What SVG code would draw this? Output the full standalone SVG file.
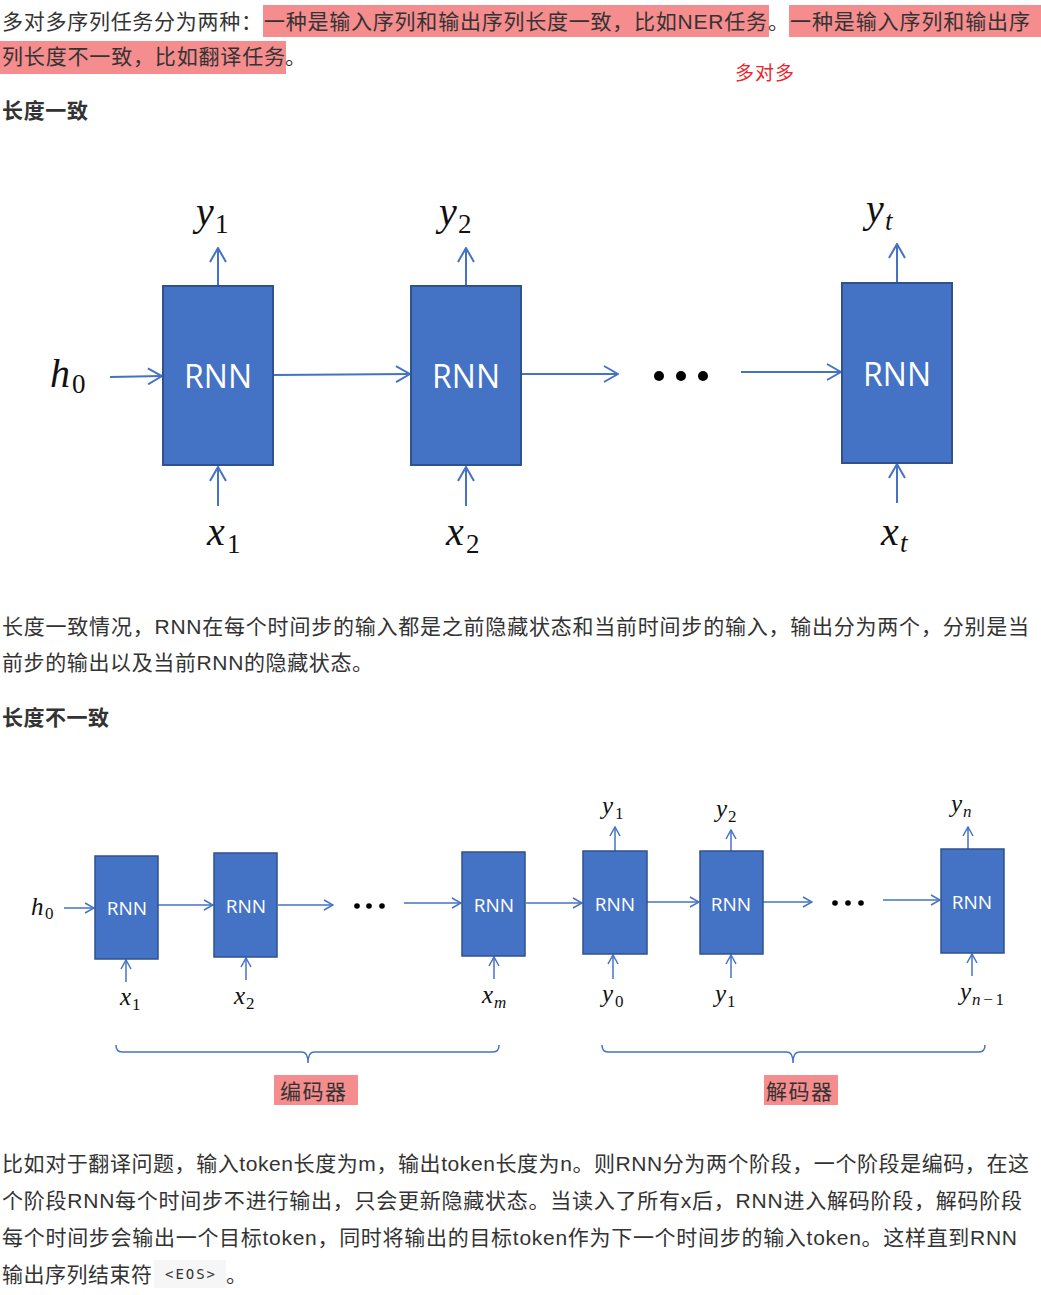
<svg xmlns="http://www.w3.org/2000/svg" width="1041" height="1295" viewBox="0 0 1041 1295">
<style>
.t{font-family:"Liberation Sans","Noto Sans CJK SC",sans-serif;font-size:21px;fill:#333}
.h{font-family:"Liberation Sans","Noto Sans CJK SC",sans-serif;font-size:21px;font-weight:bold;fill:#333}
.hl{fill:#F58C8D}
.box{fill:#4472C4;stroke:#2F528F;stroke-width:2}
.box2{fill:#4472C4;stroke:#2F528F;stroke-width:1.5}
.rnn{font-family:"Open Sans","Noto Sans",sans-serif;fill:#fff;text-anchor:middle}
.m{font-family:"Liberation Serif",serif;font-style:italic;fill:#111}
.s{font-family:"Liberation Serif",serif;fill:#111}
.big{stroke:#4472C4;stroke-width:2;fill:none;marker-end:url(#ab)}
.sm{stroke:#4472C4;stroke-width:1.5;fill:none;marker-end:url(#as)}
.brace{stroke:#4472C4;stroke-width:1.5;fill:none}
</style>
<defs>
<marker id="ab" markerUnits="userSpaceOnUse" viewBox="0 0 16 18" markerWidth="16" markerHeight="18" refX="15" refY="9" orient="auto"><path d="M1,1 L15,9 L1,17" fill="none" stroke="#4472C4" stroke-width="2"/></marker>
<marker id="as" markerUnits="userSpaceOnUse" viewBox="0 0 11 12" markerWidth="11" markerHeight="12" refX="10" refY="6" orient="auto"><path d="M1,1 L10,6 L1,11" fill="none" stroke="#4472C4" stroke-width="1.5"/></marker>
</defs>

<g id="intro">
<rect class="hl" x="263" y="5" width="506" height="32"/>
<rect class="hl" x="789" y="5" width="252" height="32"/>
<rect class="hl" x="0" y="41" width="286" height="33"/>
<text class="t" x="2" y="29" textLength="260">多对多序列任务分为两种：</text>
<text class="t" x="264" y="29" textLength="503">一种是输入序列和输出序列长度一致，比如NER任务</text>
<text class="t" x="768" y="29">。</text>
<text class="t" x="790" y="29" textLength="240">一种是输入序列和输出序</text>
<text class="t" x="2" y="64" textLength="283">列长度不一致，比如翻译任务</text>
<text class="t" x="285" y="64">。</text>
<text x="735" y="80" font-family="Liberation Sans,'Noto Sans CJK SC',sans-serif" font-size="19" fill="#E8262B" textLength="59">多对多</text>
<text class="h" x="2" y="118" textLength="86">长度一致</text>
</g>

<g id="top-connectors">
<line class="big" x1="110" y1="377" x2="162" y2="376"/>
<line class="big" x1="274" y1="375" x2="410" y2="374"/>
<line class="big" x1="522" y1="374" x2="618" y2="374"/>
<line class="big" x1="741" y1="372" x2="841" y2="372"/>
<line class="big" x1="218" y1="286" x2="218" y2="248"/>
<line class="big" x1="466" y1="286" x2="466" y2="248"/>
<line class="big" x1="897" y1="283" x2="897" y2="244"/>
<line class="big" x1="218" y1="506" x2="218" y2="467"/>
<line class="big" x1="466" y1="506" x2="466" y2="467"/>
<line class="big" x1="897" y1="503" x2="897" y2="464"/>
</g>

<g id="top-rnn1"><rect class="box" x="163" y="286" width="110" height="179"/><text class="rnn" x="218" y="388" font-size="32">RNN</text></g>
<g id="top-rnn2"><rect class="box" x="411" y="286" width="110" height="179"/><text class="rnn" x="466" y="388" font-size="32">RNN</text></g>
<g id="top-rnn3"><rect class="box" x="842" y="283" width="110" height="180"/><text class="rnn" x="897" y="386" font-size="32">RNN</text></g>
<g id="top-dots" fill="#000"><circle cx="659" cy="376" r="5"/><circle cx="681" cy="376" r="5"/><circle cx="703" cy="376" r="5"/></g>

<g id="top-labels">
<text class="m" x="50" y="387" font-size="40">h</text><text class="s" x="72" y="393" font-size="27">0</text>
<text class="m" x="196" y="225" font-size="40">y</text><text class="s" x="215" y="233" font-size="27">1</text>
<text class="m" x="439" y="225" font-size="40">y</text><text class="s" x="458" y="233" font-size="27">2</text>
<text class="m" x="866" y="222" font-size="40">y</text><text class="m" x="885" y="230" font-size="27">t</text>
<text class="m" x="207" y="545" font-size="40">x</text><text class="s" x="227" y="553" font-size="27">1</text>
<text class="m" x="446" y="545" font-size="40">x</text><text class="s" x="466" y="553" font-size="27">2</text>
<text class="m" x="881" y="545" font-size="40">x</text><text class="m" x="900" y="552" font-size="27">t</text>
</g>

<g id="para2">
<text class="t" x="2" y="634" textLength="1027">长度一致情况，RNN在每个时间步的输入都是之前隐藏状态和当前时间步的输入，输出分为两个，分别是当</text>
<text class="t" x="2" y="670" textLength="371">前步的输出以及当前RNN的隐藏状态。</text>
<text class="h" x="2" y="725" textLength="107">长度不一致</text>
</g>

<g id="bottom-connectors">
<line class="sm" x1="64" y1="908" x2="94" y2="908"/>
<line class="sm" x1="158" y1="905" x2="213" y2="905"/>
<line class="sm" x1="278" y1="905" x2="333" y2="905"/>
<line class="sm" x1="404" y1="903" x2="461" y2="903"/>
<line class="sm" x1="526" y1="903" x2="582" y2="903"/>
<line class="sm" x1="647" y1="902" x2="699" y2="902"/>
<line class="sm" x1="763" y1="902" x2="812" y2="902"/>
<line class="sm" x1="883" y1="900" x2="940" y2="900"/>
<line class="sm" x1="126" y1="982" x2="126" y2="960"/>
<line class="sm" x1="246" y1="980" x2="246" y2="958"/>
<line class="sm" x1="494" y1="979" x2="494" y2="957"/>
<line class="sm" x1="613" y1="979" x2="613" y2="955"/>
<line class="sm" x1="731" y1="978" x2="731" y2="955"/>
<line class="sm" x1="972" y1="976" x2="972" y2="954"/>
<line class="sm" x1="615" y1="851" x2="615" y2="827"/>
<line class="sm" x1="731" y1="851" x2="731" y2="830"/>
<line class="sm" x1="968" y1="849" x2="968" y2="827"/>
<path class="brace" d="M116,1045 Q116,1052 122,1052 L302,1052 Q308,1052 308,1063 Q308,1052 314,1052 L493,1052 Q499,1052 499,1045"/>
<path class="brace" d="M602,1045 Q602,1052 608,1052 L787,1052 Q793,1052 793,1063 Q793,1052 799,1052 L979,1052 Q985,1052 985,1045"/>
</g>

<g id="enc1"><rect class="box2" x="95" y="856" width="63" height="103"/><text class="rnn" x="127" y="915" font-size="19">RNN</text></g>
<g id="enc2"><rect class="box2" x="214" y="853" width="63" height="104"/><text class="rnn" x="246" y="913" font-size="19">RNN</text></g>
<g id="encm"><rect class="box2" x="462" y="852" width="63" height="104"/><text class="rnn" x="494" y="912" font-size="19">RNN</text></g>
<g id="dec1"><rect class="box2" x="583" y="851" width="64" height="103"/><text class="rnn" x="615" y="911" font-size="19">RNN</text></g>
<g id="dec2"><rect class="box2" x="700" y="851" width="63" height="103"/><text class="rnn" x="731" y="911" font-size="19">RNN</text></g>
<g id="decn"><rect class="box2" x="941" y="849" width="63" height="104"/><text class="rnn" x="972" y="909" font-size="19">RNN</text></g>
<g id="bottom-dots" fill="#000"><circle cx="357" cy="906" r="2.8"/><circle cx="369" cy="906" r="2.8"/><circle cx="382" cy="906" r="2.8"/><circle cx="835" cy="903" r="2.8"/><circle cx="848" cy="903" r="2.8"/><circle cx="861" cy="903" r="2.8"/></g>

<g id="bottom-labels">
<text class="m" x="31" y="915" font-size="25">h</text><text class="s" x="45" y="919" font-size="17">0</text>
<text class="m" x="120" y="1005" font-size="25">x</text><text class="s" x="132" y="1010" font-size="17">1</text>
<text class="m" x="234" y="1004" font-size="25">x</text><text class="s" x="246" y="1009" font-size="17">2</text>
<text class="m" x="482" y="1003" font-size="25">x</text><text class="m" x="494" y="1008" font-size="17">m</text>
<text class="m" x="602" y="814" font-size="25">y</text><text class="s" x="615" y="819" font-size="17">1</text>
<text class="m" x="716" y="817" font-size="25">y</text><text class="s" x="728" y="822" font-size="17">2</text>
<text class="m" x="951" y="812" font-size="25">y</text><text class="m" x="963" y="817" font-size="17">n</text>
<text class="m" x="602" y="1002" font-size="25">y</text><text class="s" x="615" y="1007" font-size="17">0</text>
<text class="m" x="715" y="1002" font-size="25">y</text><text class="s" x="727" y="1007" font-size="17">1</text>
<text class="m" x="960" y="1000" font-size="25">y</text><text class="m" x="972" y="1005" font-size="17" textLength="32">n<tspan font-style="normal">−1</tspan></text>
</g>

<g id="encoder-label"><rect class="hl" x="274" y="1075" width="84" height="30"/><text class="t" x="280" y="1099" font-size="22" fill="#222" textLength="66">编码器</text></g>
<g id="decoder-label"><rect class="hl" x="764" y="1075" width="74" height="30"/><text class="t" x="766" y="1099" font-size="22" fill="#222" textLength="66">解码器</text></g>

<g id="para3">
<text class="t" x="2" y="1171" textLength="1027">比如对于翻译问题，输入token长度为m，输出token长度为n。则RNN分为两个阶段，一个阶段是编码，在这</text>
<text class="t" x="2" y="1208" textLength="1020">个阶段RNN每个时间步不进行输出，只会更新隐藏状态。当读入了所有x后，RNN进入解码阶段，解码阶段</text>
<text class="t" x="2" y="1245" textLength="1015">每个时间步会输出一个目标token，同时将输出的目标token作为下一个时间步的输入token。这样直到RNN</text>
<text class="t" x="2" y="1282" textLength="150">输出序列结束符</text>
<rect x="154" y="1260" width="72" height="28" fill="#F6F6F6"/>
<text x="165" y="1279" font-family="DejaVu Sans Mono,monospace" font-size="14" fill="#333" textLength="50">&lt;EOS&gt;</text>
<text class="t" x="226" y="1282">。</text>
</g>
</svg>
